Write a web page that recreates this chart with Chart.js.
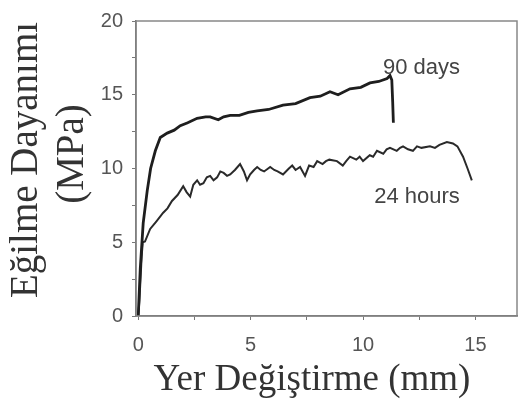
<!DOCTYPE html>
<html>
<head>
<meta charset="utf-8">
<script src="https://cdn.jsdelivr.net/npm/chart.js@4"></script>
<style>
    body { margin: 0; background: #fff; }
    #wrap { width: 518px; height: 403px; }
</style>
</head>
<body>
<div id="wrap"><canvas id="flexChart"></canvas></div>
<script>
// Displacement (mm) / strength (MPa)
const days90X = [0, 0.09, 0.22, 0.4, 0.55, 0.76, 0.98, 1.29, 1.6, 1.87, 2.2, 2.62, 3.0, 3.2, 3.56, 3.8, 4.09, 4.5, 4.9, 5.29, 5.8, 6.44, 7.0, 7.64, 8.1, 8.53, 8.89, 9.42, 9.9, 10.31, 10.7, 11.07, 11.2, 11.28, 11.32, 11.35];
const days90Y = [0, 3.2, 6.3, 8.5, 10.0, 11.2, 12.1, 12.4, 12.6, 12.9, 13.1, 13.4, 13.5, 13.5, 13.3, 13.5, 13.6, 13.6, 13.8, 13.9, 14.0, 14.3, 14.4, 14.8, 14.9, 15.2, 15.0, 15.4, 15.5, 15.8, 15.9, 16.1, 16.3, 16.0, 14.5, 13.1];

const hours24X = [0, 0.05, 0.1, 0.15, 0.2, 0.3, 0.53, 0.8, 1.11, 1.3, 1.5, 1.75, 2.0, 2.15, 2.31, 2.45, 2.62, 2.75, 2.9, 3.05, 3.2, 3.35, 3.51, 3.65, 3.8, 3.95, 4.09, 4.3, 4.53, 4.7, 4.84, 4.98, 5.15, 5.29, 5.45, 5.6, 5.87, 6.05, 6.2, 6.44, 6.7, 6.85, 7.0, 7.2, 7.42, 7.6, 7.8, 7.96, 8.2, 8.35, 8.5, 8.84, 9.1, 9.25, 9.42, 9.7, 9.85, 10.0, 10.3, 10.45, 10.62, 10.9, 11.05, 11.2, 11.5, 11.65, 11.78, 12.0, 12.22, 12.4, 12.6, 12.98, 13.2, 13.4, 13.73, 14.0, 14.2, 14.45, 14.65, 14.84];
const hours24Y = [0, 1.0, 2.5, 4.0, 5.0, 5.05, 5.9, 6.4, 7.0, 7.3, 7.8, 8.2, 8.8, 8.4, 8.1, 8.9, 9.2, 8.9, 9.0, 9.4, 9.5, 9.2, 9.4, 9.8, 9.7, 9.5, 9.6, 9.9, 10.3, 9.8, 9.2, 9.6, 9.9, 10.1, 9.9, 9.8, 10.1, 9.9, 9.8, 9.6, 10.0, 10.2, 9.9, 10.1, 9.5, 10.2, 10.1, 10.5, 10.3, 10.5, 10.6, 10.5, 10.2, 10.5, 10.8, 10.6, 10.8, 10.5, 10.9, 10.8, 11.2, 11.0, 11.3, 11.4, 11.2, 11.4, 11.5, 11.3, 11.2, 11.5, 11.4, 11.5, 11.4, 11.6, 11.8, 11.7, 11.5, 10.8, 10.0, 9.2];

const xTicks = [0, 2.5, 5, 7.5, 10, 12.5, 15];
const yTicks = [0, 2.5, 5, 7.5, 10, 12.5, 15, 17.5, 20];

// curve labels: text, x, y (data units)
const curveLabels = ['90 days', '24 hours'];
const curveLabelX = [12.6, 12.4];
const curveLabelY = [16.8, 8.05];

const xTitle = 'Yer Değiştirme (mm)';
const yTitle = ['Eğilme Dayanımı', '(MPa)'];

const toPoints = (xs, ys) => xs.map((x, i) => ({ x: x, y: ys[i] }));

const tickFont = { family: "'Liberation Sans', Arial, sans-serif", size: 20 };

// frame, axis titles and curve labels
const framePlugin = {
    id: 'frameAndLabels',
    afterDraw(chart) {
        const { ctx, chartArea: a, scales } = chart;
        ctx.save();
        ctx.strokeStyle = '#888';
        ctx.lineWidth = 1.5;
        ctx.strokeRect(a.left, a.top, a.right - a.left, a.bottom - a.top);

        ctx.fillStyle = '#444';
        ctx.font = "22px 'Liberation Sans', Arial, sans-serif";
        ctx.textAlign = 'center';
        ctx.textBaseline = 'middle';
        curveLabels.forEach((t, i) => {
            ctx.fillText(t, scales.x.getPixelForValue(curveLabelX[i]), scales.y.getPixelForValue(curveLabelY[i]));
        });

        // axis titles
        ctx.fillStyle = '#333';
        ctx.font = "37px 'Liberation Serif', 'Times New Roman', serif";
        ctx.fillText(xTitle, a.left + 176, a.bottom + 64);

        ctx.font = "39px 'Liberation Serif', 'Times New Roman', serif";
        ctx.translate(27, 160);
        ctx.rotate(-Math.PI / 2);
        ctx.fillText(yTitle[0], 0, 0);
        ctx.fillText(yTitle[1], 6, 46);
        ctx.restore();
    }
};

new Chart(document.getElementById('flexChart'), {
    type: 'line',
    data: {
        datasets: [
            {
                label: '90 days',
                data: toPoints(days90X, days90Y),
                borderColor: '#1e1e1e',
                borderWidth: 2.8,
                pointRadius: 0,
                tension: 0
            },
            {
                label: '24 hours',
                data: toPoints(hours24X, hours24Y),
                borderColor: '#2a2a2a',
                borderWidth: 2,
                pointRadius: 0,
                tension: 0
            }
        ]
    },
    options: {
        responsive: true,
        maintainAspectRatio: false,
        animation: false,
        layout: { padding: { top: 13, right: 1, left: 0, bottom: 0 } },
        plugins: { legend: { display: false }, tooltip: { enabled: false } },
        scales: {
            x: {
                type: 'linear',
                min: -0.1,
                max: 16.85,
                afterBuildTicks: (axis) => { axis.ticks = xTicks.map(v => ({ value: v })); },
                afterFit: (axis) => { axis.height = 87; },
                border: { display: true, color: '#666', width: 1.5 },
                grid: { drawOnChartArea: false, drawTicks: true, tickLength: 4, color: '#777' },
                ticks: {
                    font: tickFont,
                    color: '#555',
                    padding: 13,
                    maxRotation: 0,
                    autoSkip: false,
                    callback: (v) => (v % 5 === 0 ? v : '')
                }
            },
            y: {
                min: 0,
                max: 20,
                afterBuildTicks: (axis) => { axis.ticks = yTicks.map(v => ({ value: v })); },
                afterFit: (axis) => { axis.width = 136; },
                border: { display: true, color: '#666', width: 1.5 },
                grid: { drawOnChartArea: false, drawTicks: true, tickLength: 4, color: '#777' },
                ticks: {
                    font: tickFont,
                    color: '#555',
                    padding: 9,
                    autoSkip: false,
                    callback: (v) => (v % 5 === 0 ? v : '')
                }
            }
        }
    },
    plugins: [framePlugin]
});
</script>
</body>
</html>
